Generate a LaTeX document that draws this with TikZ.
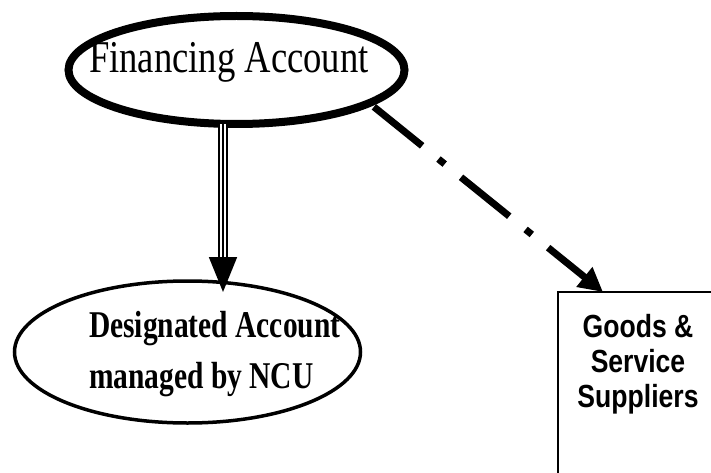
\documentclass[tikz,border=0pt]{standalone}
\usepackage{fontspec}
\usetikzlibrary{shapes.geometric,arrows.meta,calc}
\newfontfamily\finfont[FakeStretch=0.805]{Liberation Serif}
\newfontfamily\desfont[FakeStretch=0.78]{Liberation Serif}
\newfontfamily\supfont[FakeStretch=0.83]{Liberation Sans}
\tikzset{
  ovalbox/.style={ellipse, draw=black, inner sep=0pt, outer sep=0pt},
  rectbox/.style={rectangle, draw=black, line width=1.2pt, inner sep=0pt, outer sep=0pt},
  lbl/.style={inner sep=0pt, outer sep=0pt, text=black},
  dashdotarrow/.style={line width=7pt, dash pattern=on 62pt off 21pt on 8pt off 21pt,
     -{Triangle[length=24pt,width=24pt]}},
}
\begin{document}
\begin{tikzpicture}[x=1pt,y=-1pt]
\useasboundingbox (0,0) rectangle (711,473);
\fill[white] (0,0) rectangle (711,473);
\clip (0,0) rectangle (711,473);
% nodes
\node[ovalbox, line width=8pt, minimum width=336pt, minimum height=108pt] (fin) at (236.5,70) {};
\node[lbl, anchor=base west, font=\finfont\fontsize{45.5}{50}\selectfont] (fint) at (89,73) {Financing Account};
\node[ovalbox, line width=3.5pt, minimum width=346pt, minimum height=142pt] (des) at (187.5,352) {};
\node[lbl, anchor=base west, align=left, font=\desfont\bfseries\fontsize{37.8}{51.6}\selectfont] (dest) at (89,388.6) {Designated Account\\managed by NCU};
\node[rectbox, anchor=north west, minimum width=160pt, minimum height=200pt] (sup) at (558,292) {};
\node[lbl, anchor=base, align=center, font=\supfont\bfseries\fontsize{32}{35.3}\selectfont] (supt) at (638,407.6) {Goods \&\\Service\\Suppliers};
% connectors
\coordinate (tip1) at (223,292);
\coordinate (top1) at (fin.south -| tip1);
\coordinate (base1) at (223,257);
\draw[line width=9.4pt] (top1) -- (base1);
\draw[white, line width=5.4pt] (top1) -- (base1);
\draw[line width=1.8pt, -{Triangle[length=35pt,width=28pt]}] (top1) -- (tip1);
\coordinate (tip2) at ($(sup.north west)+(45,0)$);
\draw[dashdotarrow, shorten <=6pt] (fin.-14) -- (tip2);
\end{tikzpicture}
\end{document}
